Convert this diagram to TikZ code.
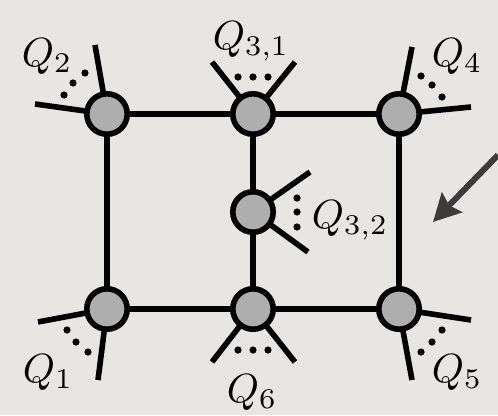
\documentclass[tikz,border=0pt]{standalone}
\usetikzlibrary{arrows.meta}
\definecolor{bg}{HTML}{E8E6E2}
\definecolor{nodefill}{HTML}{AEAEAE}
\definecolor{arrowgray}{HTML}{3C3C3C}
\begin{document}
\begin{tikzpicture}[x=0.025cm,y=-0.025cm,
  vtx/.style={circle,draw=black,fill=nodefill,line width=0.14cm,minimum size=1.01cm,inner sep=0pt},
  wire/.style={line width=0.14cm,black},
  lbl/.style={inner sep=0pt,anchor=base west,scale=2.9},
  dotmark/.style={fill=black}]
\fill[bg] (0,0) rectangle (498,415);
\useasboundingbox (0,0) rectangle (498,415);
% legs free ends
\coordinate (l2a) at (95,45);   \coordinate (l2b) at (35,104);
\coordinate (l31a) at (212,62); \coordinate (l31b) at (295,62);
\coordinate (l4a) at (412,47);  \coordinate (l4b) at (471,107);
\coordinate (l32a) at (310,172);\coordinate (l32b) at (308,252);
\coordinate (l1a) at (38,322);  \coordinate (l1b) at (98,380);
\coordinate (l6a) at (212,362); \coordinate (l6b) at (295,362);
\coordinate (l5a) at (471,320); \coordinate (l5b) at (412,380);
% wires and legs (behind nodes)
\coordinate (c2) at (107,114); \coordinate (c31) at (253,114); \coordinate (c4) at (399,114);
\coordinate (c32) at (253,212);
\coordinate (c1) at (107,309); \coordinate (c6) at (253,309); \coordinate (c5) at (399,309);
\draw[wire] (c2) -- (c31) -- (c4) -- (c5) -- (c6) -- (c1) -- cycle;
\draw[wire] (c31) -- (c32) -- (c6);
\foreach \c/\a/\b in {c2/l2a/l2b,c31/l31a/l31b,c4/l4a/l4b,c32/l32a/l32b,c1/l1a/l1b,c6/l6a/l6b,c5/l5a/l5b}{
  \draw[wire] (\c) -- (\a);
  \draw[wire] (\c) -- (\b);
}
% vertices
\node[vtx] (n2) at (c2) {};
\node[vtx] (n31) at (c31) {};
\node[vtx] (n4) at (c4) {};
\node[vtx] (n32) at (c32) {};
\node[vtx] (n1) at (c1) {};
\node[vtx] (n6) at (c6) {};
\node[vtx] (n5) at (c5) {};
% dots
\foreach \p in {(85,73),(73,83),(64,95),
                (238,77),(253,77),(268,77),
                (421,76),(432,85),(442,97),
                (297,198),(297,212),(297,227),
                (67,330),(76,342),(88,352),
                (238,350),(253,350),(268,350),
                (442,330),(432,342),(421,352)}
  \fill[dotmark] \p circle (3.6);
% labels
\node[lbl] (q2) at (21,66) {$Q_2$};
\node[lbl] (q31) at (212,49) {$Q_{3,1}$};
\node[lbl] (q4) at (431,66) {$Q_4$};
\node[lbl] (q32) at (311,228) {$Q_{3,2}$};
\node[lbl] (q1) at (22,382) {$Q_1$};
\node[lbl] (q6) at (226,402) {$Q_6$};
\node[lbl] (q5) at (431,382) {$Q_5$};
% arrow
\coordinate (arrstart) at (498,155);
\coordinate (arrtip) at (433,222);
\draw[line width=0.15cm,arrowgray,-{Stealth[length=0.68cm,width=0.7cm,inset=0.1cm]}] (arrstart) -- (arrtip);
\end{tikzpicture}
\end{document}
